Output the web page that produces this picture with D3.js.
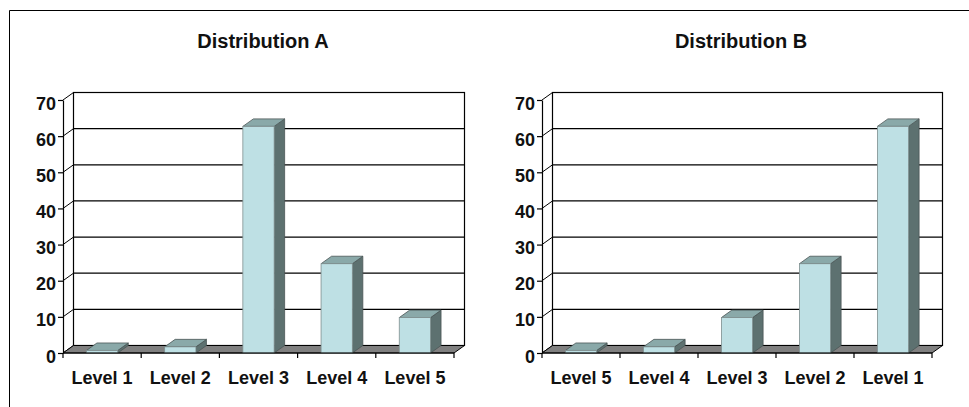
<!DOCTYPE html>
<html>
<head>
<meta charset="utf-8">
<script src="https://cdn.jsdelivr.net/npm/d3@7/dist/d3.min.js"></script>
<style>
  html, body { margin: 0; padding: 0; background: #fff; }
  svg { display: block; }
  text { font-family: "Liberation Sans", Arial, sans-serif; font-weight: bold; fill: #111; }
</style>
</head>
<body>
<script>
// ---- data ----
const titleA = "Distribution A";
const titleB = "Distribution B";
const categoriesA = ["Level 1", "Level 2", "Level 3", "Level 4", "Level 5"];
const valuesA = [0.7, 1.7, 62.7, 24.7, 9.8];
const categoriesB = ["Level 5", "Level 4", "Level 3", "Level 2", "Level 1"];
const valuesB = [0.7, 1.7, 9.8, 24.7, 62.7];
const yTicks = [0, 10, 20, 30, 40, 50, 60, 70];
const yMax = 70;

const W = 969, H = 407;
const svg = d3.select("body").append("svg").attr("width", W).attr("height", H);

// outer frame
svg.append("path").attr("d", `M9.5,${H + 2}V10.5H${W + 2}`)
  .attr("fill", "none").attr("stroke", "#000").attr("stroke-width", 1);

const DX = 10.5, DY = -7.5;
const colFront = "#bee0e4", colTop = "#8aa9a9", colSide = "#5d7170", colEdge = "#4a5555";

function drawChart(cfg) {
  const { x0, x1, yTop, yBottom, cats, vals, title, titleX } = cfg;
  const g = svg.append("g");
  const x = d3.scaleBand().domain(cats).range([x0, x1]).paddingInner(0.6).paddingOuter(0.3);
  const y = d3.scaleLinear().domain([0, yMax]).range([yBottom, yTop]);
  const step = x.step();

  // title
  g.append("text").attr("x", titleX).attr("y", 48).attr("text-anchor", "middle")
    .style("font-size", "20px").text(title);

  // back wall
  g.append("rect").attr("x", x0 + DX).attr("y", y(yMax) + DY)
    .attr("width", x1 - x0).attr("height", y(0) - y(yMax))
    .attr("fill", "#fff").attr("stroke", "#000").attr("stroke-width", 1.2);

  // gridlines on back wall and side-wall diagonals
  yTicks.forEach(v => {
    g.append("line").attr("x1", x0 + DX).attr("x2", x1 + DX)
      .attr("y1", y(v) + DY).attr("y2", y(v) + DY)
      .attr("stroke", "#000").attr("stroke-width", 1.2);
    g.append("line").attr("x1", x0).attr("x2", x0 + DX)
      .attr("y1", y(v)).attr("y2", y(v) + DY)
      .attr("stroke", "#000").attr("stroke-width", 1);
  });

  // floor
  const y0 = y(0);
  g.append("path")
    .attr("d", `M${x0},${y0}L${x1},${y0}L${x1 + DX},${y0 + DY}L${x0 + DX},${y0 + DY}Z`)
    .attr("fill", "#808080").attr("stroke", "#000").attr("stroke-width", 1);

  // bars
  const bw = x.bandwidth();
  const bars = g.selectAll("g.bar").data(cats.map((c, i) => ({ c, v: vals[i] })))
    .enter().append("g").attr("class", "bar");
  bars.append("path") // side
    .attr("d", d => {
      const bx = x(d.c) + bw, yv = y(d.v);
      return `M${bx},${yv}L${bx + DX},${yv + DY}L${bx + DX},${y0 + DY}L${bx},${y0}Z`;
    })
    .attr("fill", colSide).attr("stroke", colEdge).attr("stroke-width", 0.8);
  bars.append("path") // top
    .attr("d", d => {
      const bx = x(d.c), yv = y(d.v);
      return `M${bx},${yv}L${bx + bw},${yv}L${bx + bw + DX},${yv + DY}L${bx + DX},${yv + DY}Z`;
    })
    .attr("fill", colTop).attr("stroke", colEdge).attr("stroke-width", 0.8);
  bars.append("rect") // front
    .attr("x", d => x(d.c)).attr("y", d => y(d.v))
    .attr("width", bw).attr("height", d => y0 - y(d.v))
    .attr("fill", colFront).attr("stroke", "#7f8f8f").attr("stroke-width", 0.8);

  // y axis
  const ay = g.append("g").attr("transform", `translate(${x0},0)`)
    .call(d3.axisLeft(y).tickValues(yTicks).tickSize(5).tickSizeOuter(0).tickPadding(2));
  ay.selectAll("path.domain").attr("stroke", "#000").attr("stroke-width", 1.2);
  ay.selectAll(".tick line").attr("stroke", "#000").attr("stroke-width", 1.2);
  ay.selectAll("text").attr("font-family", null).attr("font-size", null)
    .style("font-size", "18px").attr("fill", "#111").attr("dy", "0.5em");

  // x axis ticks at category boundaries
  const bounds = d3.range(cats.length + 1).map(i => x0 + i * step);
  g.selectAll("line.xt").data(bounds).enter().append("line")
    .attr("x1", d => d).attr("x2", d => d).attr("y1", y0).attr("y2", y0 + 5)
    .attr("stroke", "#000").attr("stroke-width", 1.2);
  g.append("line").attr("x1", x0).attr("x2", x1).attr("y1", y0).attr("y2", y0)
    .attr("stroke", "#000").attr("stroke-width", 1.2);

  // x labels
  g.selectAll("text.xl").data(cats).enter().append("text")
    .attr("x", d => x(d) + bw / 2).attr("y", 384).attr("text-anchor", "middle")
    .style("font-size", "18px").text(d => d);
}

drawChart({ x0: 63, x1: 454, yTop: 100, yBottom: 353, cats: categoriesA, vals: valuesA, title: titleA, titleX: 263 });
drawChart({ x0: 542, x1: 932, yTop: 100, yBottom: 353, cats: categoriesB, vals: valuesB, title: titleB, titleX: 741 });
</script>
</body>
</html>
